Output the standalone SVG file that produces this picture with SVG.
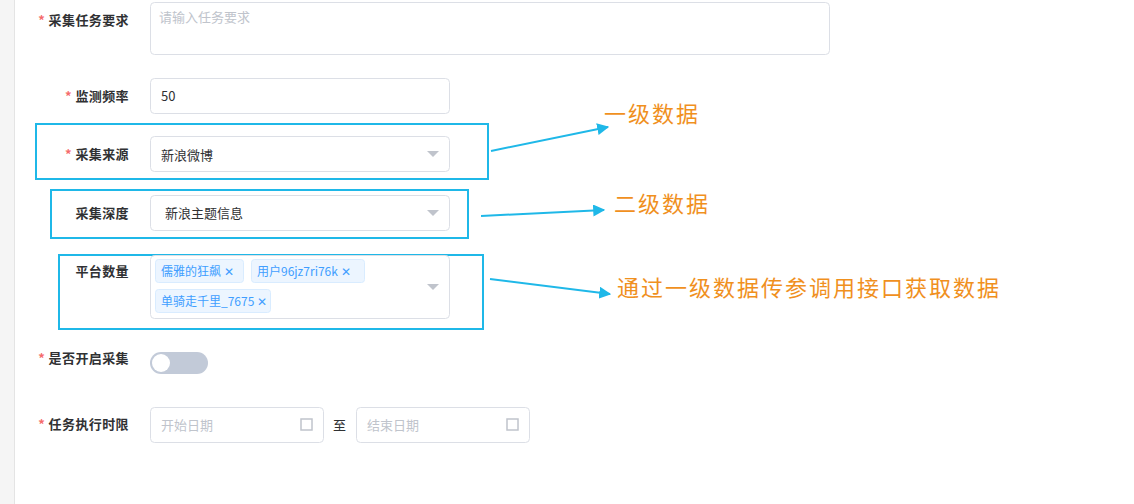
<svg xmlns="http://www.w3.org/2000/svg" width="1134" height="504" viewBox="0 0 1134 504">
<style>
text{font-family:"Noto Sans CJK SC","Liberation Sans",sans-serif}
.lb{font-size:13px;fill:#303133;font-weight:bold;text-anchor:end;letter-spacing:0.4px}
.st{fill:#f56c6c}
.in{fill:#fff;stroke:#dcdfe6;stroke-width:1}
.v{font-size:13px;fill:#303133}
.ph{font-size:13px;fill:#c0c4cc}
.hb{fill:none;stroke:#1fb8e8;stroke-width:2}
.tag{fill:#ecf5ff;stroke:#d9ecff}
.tt{font-size:12px;fill:#409eff}
.ann{font-size:22px;fill:#f0901e;letter-spacing:2px}
.ar{stroke:#1fb8e8;stroke-width:2;fill:none;marker-end:url(#a)}
.tri{fill:#c0c4cc}
</style>
<defs><marker id="a" viewBox="0 0 10 10" refX="9" refY="5" markerWidth="6" markerHeight="6" orient="auto"><path d="M0,0L10,5L0,10z" fill="#1fb8e8"/></marker></defs>
<rect width="1134" height="504" fill="#fff"/>
<rect x="0" y="0" width="14" height="504" fill="#f5f5f5"/>
<line x1="14.5" y1="0" x2="14.5" y2="504" stroke="#e4e4e4"/>
<g id="task"><text class="lb" x="129" y="25"><tspan class="st">* </tspan>采集任务要求</text><rect class="in" x="150.5" y="2.5" width="679" height="52" rx="4"/><text class="ph" x="159" y="22">请输入任务要求</text></g>
<g id="freq"><text class="lb" x="129" y="101"><tspan class="st">* </tspan>监测频率</text><rect class="in" x="150.5" y="78.5" width="299" height="35" rx="4"/><text class="v" x="161" y="101">50</text></g>
<g id="source"><rect class="hb" x="36" y="124" width="452" height="55"/><text class="lb" x="129" y="159"><tspan class="st">* </tspan>采集来源</text><rect class="in" x="150.5" y="136.5" width="299" height="35" rx="4"/><text class="v" x="161" y="160">新浪微博</text><path class="tri" d="M427,151h12l-6,6z"/></g>
<g id="depth"><rect class="hb" x="51" y="190" width="417" height="48"/><text class="lb" x="129" y="218">采集深度</text><rect class="in" x="150.5" y="195.5" width="299" height="35" rx="4"/><text class="v" x="165" y="218">新浪主题信息</text><path class="tri" d="M427,210h12l-6,6z"/></g>
<g id="platform"><rect class="hb" x="59" y="255" width="424" height="74"/><text class="lb" x="129" y="276">平台数量</text><rect class="in" x="150.5" y="255.5" width="299" height="63" rx="4"/>
<rect class="tag" x="155.5" y="259.5" width="88" height="23" rx="3"/><text class="tt" x="161" y="276">儒雅的狂飙 ✕</text>
<rect class="tag" x="251.5" y="259.5" width="113" height="23" rx="3"/><text class="tt" x="257" y="276">用户96jz7ri76k ✕</text>
<rect class="tag" x="155.5" y="289.5" width="115" height="23" rx="3"/><text class="tt" x="161" y="306">单骑走千里_7675 ✕</text>
<path class="tri" d="M427,284h12l-6,6z"/></g>
<g id="switch"><text class="lb" x="129" y="363"><tspan class="st">* </tspan>是否开启采集</text><rect x="150" y="352" width="58" height="22" rx="11" fill="#c2cad8"/><circle cx="161" cy="363" r="9" fill="#fff"/></g>
<g id="date"><text class="lb" x="129" y="429"><tspan class="st">* </tspan>任务执行时限</text><rect class="in" x="150.5" y="407.5" width="173" height="35" rx="4"/><text class="ph" x="161" y="430">开始日期</text><rect x="301" y="419" width="11" height="11" fill="none" stroke="#c0c4cc" stroke-width="1.5"/>
<text class="v" x="333" y="430">至</text><rect class="in" x="356.5" y="407.5" width="173" height="35" rx="4"/><text class="ph" x="367" y="430">结束日期</text><rect x="507" y="419" width="11" height="11" fill="none" stroke="#c0c4cc" stroke-width="1.5"/></g>
<g id="connectors"><path class="ar" d="M491,151L608,127"/><path class="ar" d="M481,216L604,210"/><path class="ar" d="M490,279L610,294"/></g>
<g id="ann1"><text class="ann" x="604" y="122">一级数据</text></g>
<g id="ann2"><text class="ann" x="614" y="212">二级数据</text></g>
<g id="ann3"><text class="ann" x="617" y="296">通过一级数据传参调用接口获取数据</text></g>
</svg>
